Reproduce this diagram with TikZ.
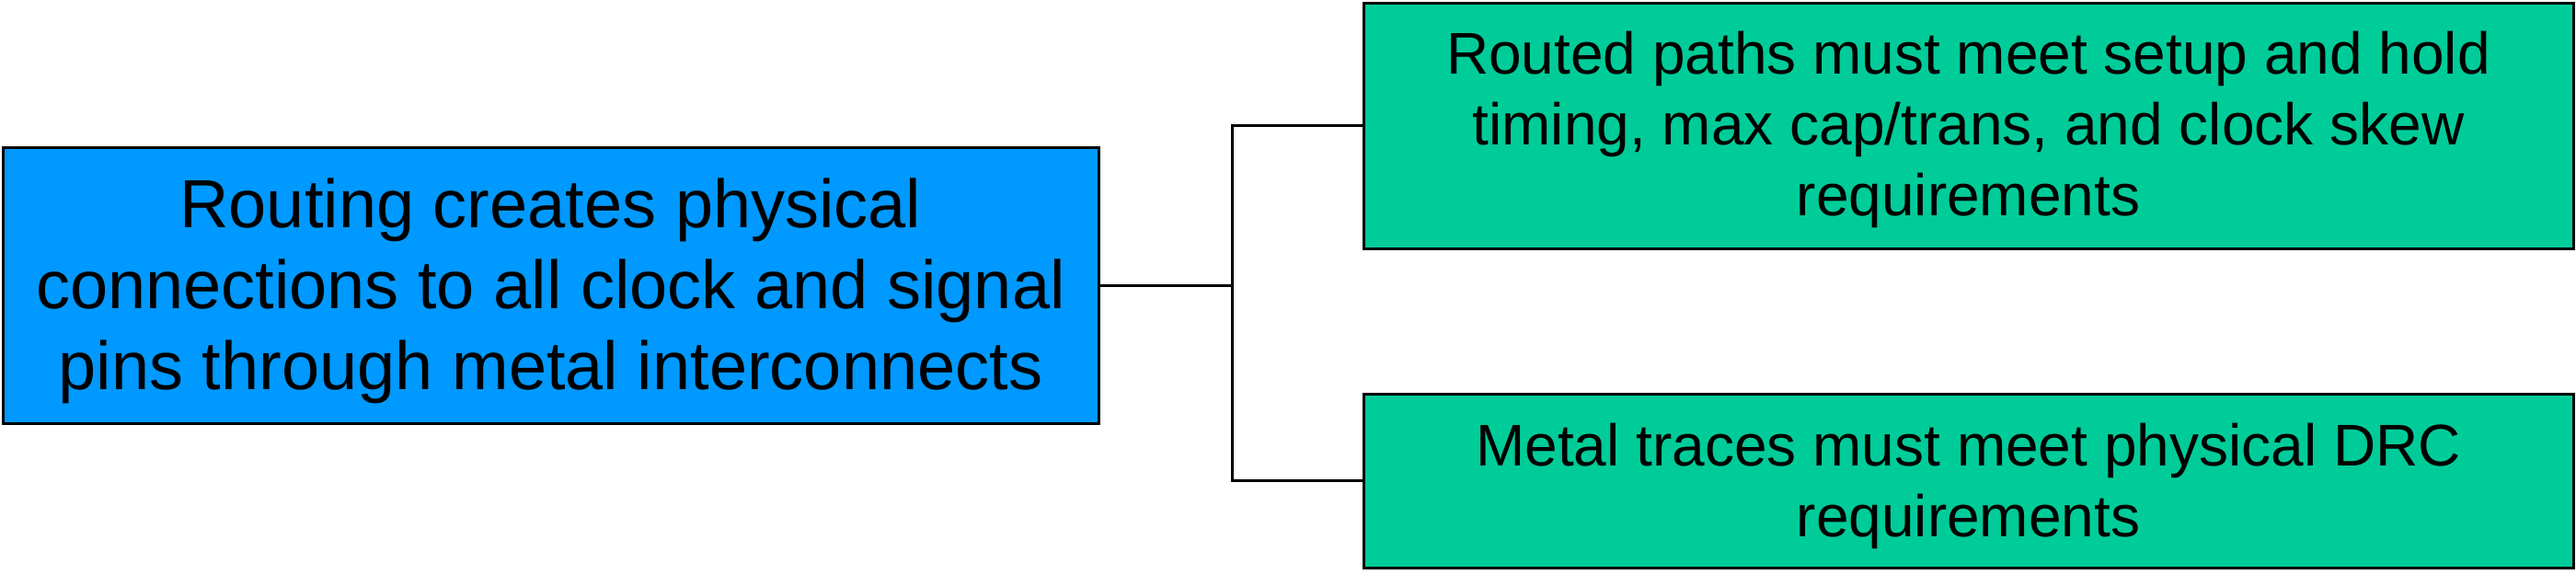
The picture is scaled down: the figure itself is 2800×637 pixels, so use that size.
\documentclass[tikz,border=0pt]{standalone}
\usepackage{fontspec}
\setmainfont{Liberation Sans}
\definecolor{mainblue}{HTML}{0099FF}
\definecolor{subgreen}{HTML}{00CC99}
\tikzset{
  mainbox/.style={draw=black, line width=3pt, fill=mainblue, inner sep=0pt},
  subbox/.style={draw=black, line width=3pt, fill=subgreen, inner sep=0pt},
  maintext/.style={align=center, inner sep=0pt, font=\fontsize{74}{88}\selectfont},
  subtext/.style={align=center, inner sep=0pt, font=\fontsize{64}{77}\selectfont},
  link/.style={draw=black, line width=3pt}
}
\begin{document}
\begin{tikzpicture}[x=1pt,y=-1pt]
\useasboundingbox (0,0) rectangle (2800,637);
\node[mainbox, minimum width=1191pt, minimum height=300pt] (L) at (598.5,310) {};
\node[subbox, minimum width=1315pt, minimum height=267pt] (T) at (2139.5,136.5) {};
\node[subbox, minimum width=1315pt, minimum height=189pt] (B) at (2139.5,522.5) {};
\node[maintext] (Lt) at (598.5,316)
  {Routing creates physical\\connections to all clock and signal\\pins through metal interconnects};
\node[subtext] (Tt) at (2139.5,141.4)
  {Routed paths must meet setup and hold\\timing, max cap/trans, and clock skew\\requirements};
\node[subtext] (Bt) at (2139.5,528.4)
  {Metal traces must meet physical DRC\\requirements};
\coordinate (J) at (1339,310);
\draw[link] (L.east) -- (J);
\draw[link] (J) |- (T.west);
\draw[link] (J) |- (B.west);
\end{tikzpicture}
\end{document}
